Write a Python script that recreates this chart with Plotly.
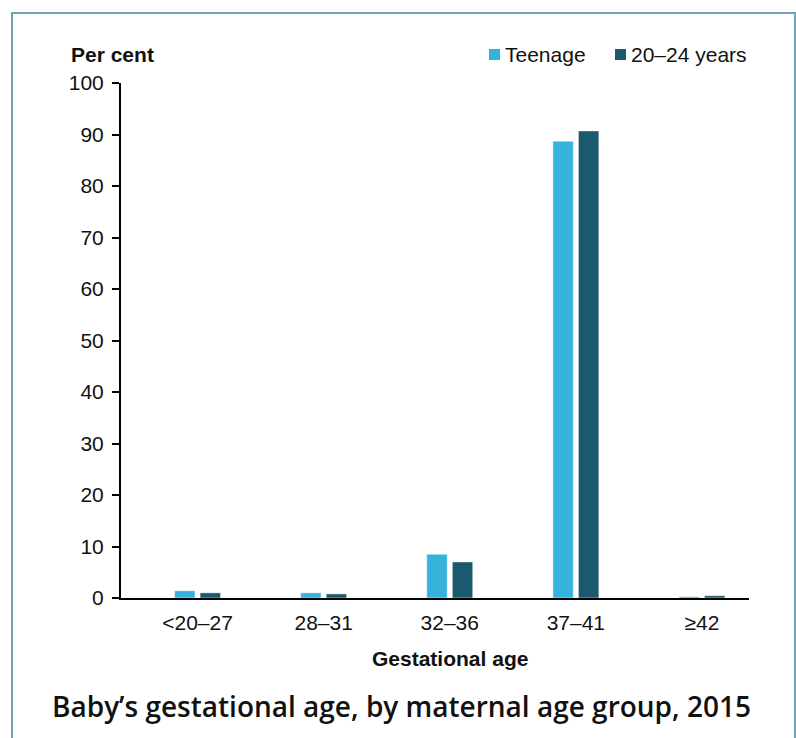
import plotly.graph_objects as go

# Gestational age groups (weeks) and share of babies (%) by maternal age group
categories = ["<20–27", "28–31", "32–36", "37–41", "≥42"]
teenage = [1.4, 1.0, 8.5, 88.7, 0.25]
age_20_24 = [1.0, 0.8, 7.0, 90.7, 0.45]
series_names = ["Teenage", "20–24 years"]
y_ticks = list(range(0, 101, 10))

TEEN_COLOR = "#36b3dc"
YOUNG_COLOR = "#1b5a6e"
FRAME_COLOR = "#6fa3b8"
FONT = "Liberation Sans, Arial, sans-serif"

W, H = 796, 738
L, R, T, B = 121, 47, 83, 140  # plot area margins in px
PW, PH = W - L - R, H - T - B


def px_x(x):
    return (x - L) / PW


def px_y(y):
    return (H - B - y) / PH


fig = go.Figure()
for name, vals, color in [(series_names[0], teenage, TEEN_COLOR),
                          (series_names[1], age_20_24, YOUNG_COLOR)]:
    fig.add_trace(go.Bar(
        x=categories, y=vals, name=name,
        marker=dict(color=color, line=dict(color="rgba(255,255,255,0.45)", width=1)),
        showlegend=False,
    ))

# Legend drawn as swatches + labels at the top right
legend_items = [(series_names[0], TEEN_COLOR, 489), (series_names[1], YOUNG_COLOR, 615)]
shapes = []
annotations = []
for name, color, x0 in legend_items:
    shapes.append(dict(type="rect", xref="paper", yref="paper",
                       x0=px_x(x0), x1=px_x(x0 + 11), y0=px_y(60), y1=px_y(49),
                       fillcolor=color, line=dict(width=0)))
    annotations.append(dict(text=name, xref="paper", yref="paper",
                            x=px_x(x0 + 14), y=px_y(55), xanchor="left", yanchor="middle",
                            showarrow=False, font=dict(family=FONT, size=21, color="#111")))

# Outer frame
shapes.append(dict(type="rect", xref="paper", yref="paper",
                   x0=px_x(12), x1=px_x(795), y0=px_y(770), y1=px_y(13),
                   line=dict(color=FRAME_COLOR, width=2), fillcolor="rgba(0,0,0,0)"))

annotations += [
    dict(text="<b>Per cent</b>", xref="paper", yref="paper", x=px_x(69), y=px_y(55),
         xanchor="left", yanchor="middle", showarrow=False,
         font=dict(family=FONT, size=21, color="#111")),
    dict(text="<b>Gestational age</b>", xref="paper", yref="paper", x=px_x(450), y=px_y(658),
         xanchor="center", yanchor="middle", showarrow=False,
         font=dict(family=FONT, size=21, color="#111")),
    dict(text="Baby’s gestational age, by maternal age group, 2015", xref="paper", yref="paper",
         x=px_x(401), y=px_y(706), xanchor="center", yanchor="middle", showarrow=False,
         font=dict(family="Open Sans, sans-serif", size=28, color="#111", weight=600)),
]

fig.update_layout(
    width=W, height=H,
    margin=dict(l=L, r=R, t=T, b=B),
    paper_bgcolor="white", plot_bgcolor="white",
    barmode="group", bargap=0.595, bargroupgap=0.2,
    font=dict(family=FONT, size=21, color="#111"),
    shapes=shapes, annotations=annotations,
    xaxis=dict(range=[-0.607, 4.373], showline=True, linecolor="black", linewidth=2,
               ticks="", showgrid=False, zeroline=False, ticklabelstandoff=5,
               tickfont=dict(family=FONT, size=21, color="#111")),
    yaxis=dict(range=[0, 100], tickvals=y_ticks, showline=True, linecolor="black",
               linewidth=2, ticks="outside", ticklen=7, tickwidth=2, tickcolor="black",
               showgrid=False, zeroline=False, ticklabelstandoff=4,
               tickfont=dict(family=FONT, size=21, color="#111")),
)

fig.write_html("out.html")
